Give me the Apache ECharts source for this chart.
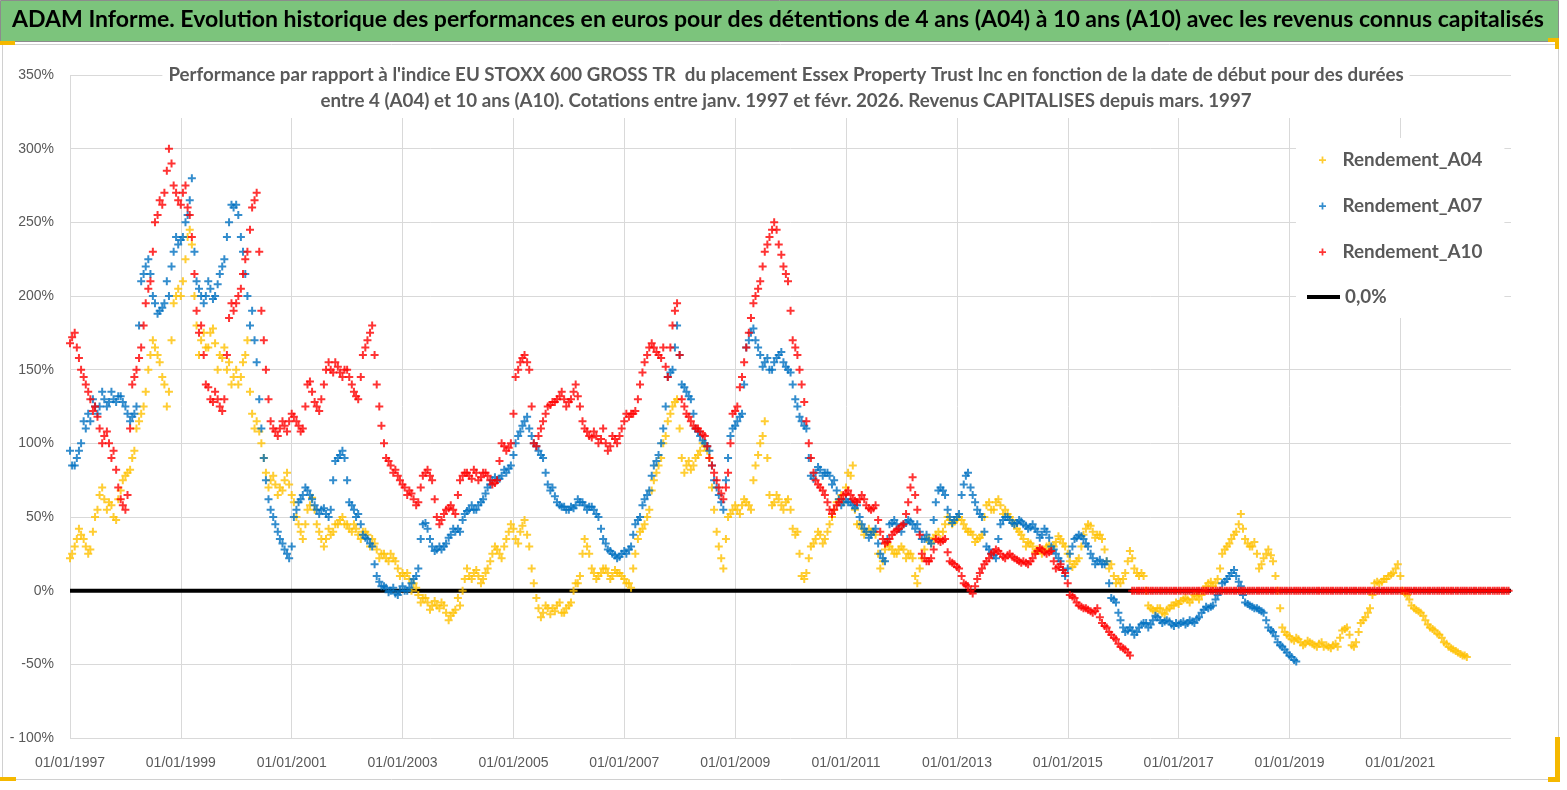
<!DOCTYPE html>
<html><head><meta charset="utf-8">
<script src="https://cdn.jsdelivr.net/npm/echarts@6/dist/echarts.min.js"></script>
<style>html,body{margin:0;padding:0;background:#fff}#c{width:1567px;height:790px}</style>
</head><body><div id="c"></div><script>
// ---- DATA: monthly readings, first value = January 1997 ----
// "Mid" arrays: reading around the 15th of each month; "Start" arrays: reading around the 1st.
const seriesNames = ['Rendement_A04', 'Rendement_A07', 'Rendement_A10', '0,0%'];
const startYear = 1997;
const xTickYears = [1997, 1999, 2001, 2003, 2005, 2007, 2009, 2011, 2013, 2015, 2017, 2019, 2021];
const yTicks = [-100, -50, 0, 50, 100, 150, 200, 250, 300, 350];

const a04Mid = [
  25,35,38,30,28,50,65,62,60,50,62,75,
  80,90,110,120,135,160,165,155,140,135,195,205,
  210,240,235,180,170,165,175,168,160,165,155,145,
  140,155,170,120,115,100,80,75,72,70,75,72,
  60,45,35,55,63,45,35,35,38,45,48,45,
  42,45,38,40,38,35,28,25,22,25,20,10,
  10,8,5,-3,-5,-8,-10,-10,-8,-15,-17,-13,
  -10,8,10,12,10,8,15,25,28,22,35,45,
  35,40,48,30,5,-12,-15,-12,-12,-10,-15,-12,
  -8,5,10,35,25,12,10,15,12,10,12,10,
  5,2,25,40,45,55,75,85,100,115,125,130,
  90,85,82,90,95,98,90,55,30,15,50,55,
  55,58,60,55,85,100,115,65,60,62,55,62,
  42,40,10,12,30,35,38,35,45,55,62,60,
  80,85,45,42,40,40,38,15,28,30,25,28,
  28,25,22,5,22,35,32,38,35,45,48,47,
  50,45,40,38,35,38,58,55,60,58,55,50,
  45,40,35,33,30,28,25,30,28,33,35,30,
  20,18,22,38,45,40,38,35,20,18,5,5,
  12,27,15,10,10,-10,-13,-12,-15,-13,-10,-8,
  -7,-5,-8,-3,-6,0,5,3,8,25,30,35,
  40,52,35,30,33,15,22,28,20,0,-25,-30,
  -33,-32,-35,-36,-35,-37,-36,-38,-38,-37,-38,-27,
  -25,-37,-35,-22,-18,-12,5,5,8,10,12,18,
  0,-3,-10,-13,-15,-20,-25,-27,-30,-35,-38,-40,
  -42,-44,-45
];
const a04Start = [
  22,30,42,35,25,40,55,70,55,58,48,68,
  78,82,95,115,125,150,170,160,145,125,170,200,
  200,225,245,200,160,175,165,178,150,158,150,140,
  150,145,160,135,110,108,90,70,78,65,68,80,
  65,50,40,45,58,55,40,30,42,40,45,50,
  45,40,42,35,40,30,32,22,25,20,22,15,
  12,12,0,2,-8,-5,-13,-7,-12,-10,-20,-15,
  -5,0,15,8,14,5,12,20,30,25,30,40,
  42,32,44,38,15,-5,-18,-10,-16,-14,-8,-15,
  -10,0,5,25,30,15,8,12,15,8,14,12,
  8,5,15,35,42,50,68,80,90,105,120,128,
  110,80,88,85,92,100,95,70,40,22,35,52,
  58,52,62,58,75,92,105,90,58,65,58,60,
  55,38,25,8,22,32,40,32,40,50,60,65,
  70,78,55,45,38,42,40,25,20,32,28,25,
  30,22,25,10,15,28,36,35,40,40,50,45,
  48,48,42,40,33,36,50,60,55,62,52,52,
  48,42,38,30,32,26,28,27,31,30,37,32,
  25,16,20,30,42,44,36,38,28,15,10,8,
  8,20,22,12,12,0,-12,-14,-12,-16,-12,-10,
  -9,-6,-6,-6,-4,-3,3,6,5,15,28,32,
  38,45,42,32,30,25,18,25,24,10,-12,-28,
  -31,-34,-33,-37,-34,-36,-38,-35,-37,-39,-36,-32,
  -26,-30,-38,-28,-20,-15,-3,6,6,8,11,15,
  10,-2,-6,-12,-14,-17,-23,-26,-29,-32,-36,-39,
  -41,-43,-44
];

const a07Mid = [
  85,90,100,110,115,125,125,130,128,130,132,128,
  120,118,125,210,220,215,195,190,195,200,230,235,
  240,255,280,210,200,200,205,200,215,225,250,260,
  255,230,200,190,155,110,75,55,45,35,28,22,
  50,60,65,68,62,55,55,52,55,88,92,90,
  60,55,52,38,35,30,10,3,2,0,-2,0,
  0,2,8,15,45,42,30,28,28,32,38,40,
  40,52,55,55,58,62,70,75,75,78,80,85,
  100,108,115,110,100,95,90,72,70,60,57,55,
  57,58,60,58,57,55,50,35,28,25,22,25,
  25,30,45,50,62,68,85,92,110,145,150,180,
  140,135,130,110,105,100,95,75,65,55,90,110,
  115,120,165,175,170,160,155,150,155,160,155,150,
  140,125,115,110,78,80,82,80,78,75,62,60,
  60,58,58,45,40,38,42,25,20,45,48,42,
  45,48,45,45,35,38,32,60,70,65,50,48,
  52,72,80,65,55,50,30,25,22,45,50,48,
  45,48,45,42,45,40,38,40,30,25,20,10,
  25,35,38,35,30,22,20,18,20,-5,-8,-20,
  -28,-25,-30,-25,-22,-25,-20,-18,-22,-20,-23,-22,
  -22,-23,-20,-22,-18,-13,-12,-10,-3,5,8,12,
  10,3,-8,-10,-12,-13,-15,-25,-28,-35,-38,-42,
  -45,-48
];
const a07Start = [
  95,85,95,115,120,130,120,135,125,135,128,132,
  125,115,120,180,215,225,200,188,192,210,220,240,
  238,250,265,230,205,195,210,198,208,220,240,262,
  262,240,215,180,170,130,90,62,50,40,32,25,
  30,55,62,70,65,58,52,56,50,75,90,95,
  75,58,50,45,36,32,18,6,3,-1,2,-3,
  3,0,5,10,35,46,35,27,30,30,36,42,
  42,48,54,58,55,60,66,72,77,76,82,83,
  92,105,112,118,105,98,92,80,68,64,58,57,
  55,56,62,60,55,57,52,42,32,27,24,23,
  27,28,38,48,58,65,78,88,100,125,148,165,
  160,138,132,120,108,102,98,85,70,60,75,105,
  112,118,140,170,178,165,152,158,150,158,162,152,
  148,130,118,112,90,76,84,78,80,72,68,58,
  62,60,56,50,42,36,40,32,22,35,46,45,
  40,46,47,42,40,35,34,48,68,68,55,46,
  50,65,78,70,60,52,40,28,24,35,48,50,
  46,46,47,44,43,42,36,42,36,28,22,14,
  15,30,36,37,32,25,18,21,18,5,-6,-15,
  -25,-27,-27,-28,-23,-22,-23,-17,-20,-21,-21,-24,
  -23,-21,-22,-21,-19,-15,-11,-11,-6,0,6,10,
  14,6,-3,-9,-11,-12,-14,-20,-27,-31,-37,-40,
  -44,-47
];

const a10Mid = [
  172,165,150,140,130,125,110,105,100,95,70,58,
  65,140,150,165,195,210,250,265,270,300,275,265,
  270,260,240,190,180,140,130,135,125,130,185,190,
  200,215,230,260,270,190,150,115,108,110,112,115,
  118,112,110,140,135,125,130,150,150,155,148,150,
  145,135,130,160,170,180,140,112,90,85,82,75,
  70,68,62,60,78,82,75,50,48,55,58,52,
  75,80,78,82,75,80,78,72,75,100,95,100,
  145,155,160,150,100,105,115,125,128,130,135,125,
  130,140,125,110,105,108,100,110,95,105,100,110,
  120,120,122,140,155,165,165,160,165,145,180,195,
  130,120,115,110,108,105,90,80,70,62,80,120,
  125,145,165,185,200,210,230,240,250,235,220,210,
  170,160,140,115,90,75,70,65,55,55,60,65,
  68,62,60,65,58,55,58,40,32,35,40,42,
  45,60,77,55,25,20,22,35,33,35,20,18,
  15,5,3,-2,8,15,20,25,28,25,22,25,
  22,20,20,18,22,27,28,25,27,15,18,12,
  -3,-5,-10,-12,-13,-15,-12,-22,-25,-30,-33,-38,
  -40,-44,0,0,0,0,0,0,0,0,0,0,
  0,0,0,0,0,0,0,0,0,0,0,0,
  0,0,0,0,0,0,0,0,0,0,0,0,
  0,0,0,0,0,0,0,0,0,0,0,0,
  0,0,0,0,0,0,0,0,0,0,0,0,
  0,0,0,0,0,0,0,0,0,0,0,0,
  0,0,0,0,0,0,0,0,0,0,0,0
];
const a10Start = [
  168,175,158,145,135,122,118,100,108,90,82,62,
  55,110,145,158,180,205,230,255,262,285,290,270,
  262,275,255,215,175,160,138,128,130,122,160,195,
  195,205,225,245,265,230,170,130,110,105,115,108,
  120,115,108,125,142,128,122,140,155,148,152,145,
  150,140,132,145,165,175,160,125,100,88,80,78,
  72,65,66,58,70,80,78,62,45,52,56,55,
  65,78,80,76,80,77,80,75,73,88,98,97,
  120,150,158,155,125,98,110,120,126,128,132,130,
  128,135,132,115,108,104,105,103,100,98,103,105,
  115,118,120,130,148,160,168,162,158,152,165,190,
  160,125,118,112,110,106,98,85,75,66,70,100,
  122,138,155,175,195,205,220,235,245,245,228,215,
  190,165,150,128,100,80,72,68,60,52,58,62,
  66,65,61,62,62,56,56,48,35,33,38,41,
  44,52,70,65,38,22,20,28,34,34,26,19,
  16,10,4,0,3,12,18,22,26,27,23,24,
  23,21,19,19,20,25,29,26,26,20,16,14,
  5,-4,-8,-11,-12,-14,-14,-18,-24,-28,-32,-36,
  -39,-42,0,0,0,0,0,0,0,0,0,0,
  0,0,0,0,0,0,0,0,0,0,0,0,
  0,0,0,0,0,0,0,0,0,0,0,0,
  0,0,0,0,0,0,0,0,0,0,0,0,
  0,0,0,0,0,0,0,0,0,0,0,0,
  0,0,0,0,0,0,0,0,0,0,0,0,
  0,0,0,0,0,0,0,0,0,0,0,0
];

const zeroLineValue = 0;

const titleText = 'ADAM Informe. Evolution historique des performances en euros pour des détentions de 4 ans (A04) à 10 ans (A10) avec les revenus connus capitalisés';
const subLine1 = "Performance par rapport à l'indice EU STOXX 600 GROSS TR  du placement Essex Property Trust Inc en fonction de la date de début pour des durées";
const subLine2 = 'entre 4 (A04) et 10 ans (A10). Cotations entre janv. 1997 et févr. 2026. Revenus CAPITALISES depuis mars. 1997';

// ---- helpers ----
const DAY = 864e5;
const T0 = Date.UTC(startYear, 0, 1);
const xOf = (i, day) => (Date.UTC(startYear, i, day) - T0) / DAY;
const pairs = (vals, day) => vals.map((v, i) => [xOf(i, day), v]);
const xMax = (Date.UTC(2022, 11, 31) - T0) / DAY;
const xInterval = ((Date.UTC(xTickYears[xTickYears.length - 1], 0, 1) - T0) / DAY) / (xTickYears.length - 1);
const pad = n => (n < 10 ? '0' : '') + n;
const fmtDate = v => { const d = new Date(T0 + v * DAY + DAY / 4); return pad(d.getUTCDate()) + '/' + pad(d.getUTCMonth() + 1) + '/' + d.getUTCFullYear(); };

const FAM = 'Lato, "Open Sans", sans-serif';
const ctx = document.createElement('canvas').getContext('2d');
function fit(text, weight, target) { ctx.font = weight + ' 100px ' + FAM; return 100 * target / ctx.measureText(text).width; }
const titleSize = fit(titleText, 'bold', 1533);
const subSize = fit(subLine1, 'bold', 1236);
const legSize = fit('Rendement_A04', 'bold', 140);

const plus = 'path://M3,0H5V3H8V5H5V8H3V5H0V3H3Z';
const grey = '#595959';
const COLORS = ['#ffc000', '#0070c0', '#ff0000'];

function scatter(name, idx, mid, start) {
  return { name, type: 'scatter', z: 2 + idx, symbol: plus, symbolSize: 8,
    itemStyle: { color: COLORS[idx] }, data: pairs(start, 1).concat(pairs(mid, 15)) };
}

const chart = echarts.init(document.getElementById('c'), null, { renderer: 'canvas' });
chart.setOption({
  animation: false,
  backgroundColor: '#ffffff',
  graphic: [
    { type: 'rect', left: 0, top: 0, shape: { width: 1558, height: 41 }, style: { fill: '#7cc47c', stroke: '#8c8c8c', lineWidth: 1 }, z: -10 },
    { type: 'rect', left: 0, top: 42, shape: { width: 1556, height: 735 }, style: { fill: 'none', stroke: '#d0d0d0', lineWidth: 1 }, z: -10 },
    { type: 'rect', left: 0, top: 41, shape: { width: 15, height: 4 }, style: { fill: '#f5b800' }, z: -5 },
    { type: 'rect', left: 1548, top: 38, shape: { width: 11, height: 4 }, style: { fill: '#f5b800' }, z: -5 },
    { type: 'rect', left: 1555, top: 38, shape: { width: 4, height: 11 }, style: { fill: '#f5b800' }, z: -5 },
    { type: 'rect', left: 1555, top: 737, shape: { width: 5, height: 45 }, style: { fill: '#f5b800' }, z: -5 },
    { type: 'rect', left: 1548, top: 777, shape: { width: 12, height: 5 }, style: { fill: '#f5b800' }, z: -5 },
    { type: 'rect', left: 0, top: 777, shape: { width: 16, height: 4 }, style: { fill: '#f5b800' }, z: -5 }
  ],
  title: [
    {
      text: titleText, left: 12, top: 5, padding: 0,
      textStyle: { fontFamily: FAM, fontSize: titleSize, fontWeight: 'bold', color: '#000000', lineHeight: 30 }
    },
    {
      text: subLine1 + '\n' + subLine2,
      left: 780, top: 62, textAlign: 'center',
      backgroundColor: '#ffffff', padding: [0, 6, 4, 6],
      textStyle: { fontFamily: FAM, fontSize: subSize, fontWeight: 'bold', color: grey, lineHeight: 26, align: 'center' }
    }
  ],
  legend: [
    {
      data: seriesNames.slice(0, 3),
      orient: 'vertical', left: 1296, top: 138,
      padding: [10, 22, 54, 23],
      backgroundColor: '#ffffff',
      icon: plus, itemWidth: 20, itemHeight: 7, itemGap: 22,
      textStyle: { fontFamily: FAM, fontSize: legSize, fontWeight: 'bold', color: grey, lineHeight: 24, padding: [0, 0, 0, 5] }
    },
    {
      data: [seriesNames[3]],
      orient: 'vertical', left: 1307, top: 285, padding: 0,
      icon: 'rect', itemWidth: 33, itemHeight: 4,
      textStyle: { fontFamily: FAM, fontSize: legSize, fontWeight: 'bold', color: grey, lineHeight: 24 }
    }
  ],
  grid: { left: 70, right: 56, top: 75, bottom: 52, containLabel: false },
  xAxis: {
    type: 'value', min: 0, max: xMax, interval: xInterval,
    axisLine: { show: false }, axisTick: { show: false },
    splitLine: { show: true, showMaxLine: false, lineStyle: { color: '#d9d9d9', width: 1 } },
    axisLabel: { formatter: fmtDate, margin: 18, fontFamily: "'Liberation Sans',Arial,sans-serif", fontSize: 14, color: grey, showMaxLabel: false }
  },
  yAxis: {
    type: 'value', min: yTicks[0], max: yTicks[yTicks.length - 1], interval: yTicks[1] - yTicks[0],
    axisLine: { show: false }, axisTick: { show: false },
    splitLine: { show: true, lineStyle: { color: '#d9d9d9', width: 1 } },
    axisLabel: {
      formatter: v => (v === -100 ? '- 100%' : v + '%'),
      margin: 16, fontFamily: "'Liberation Sans',Arial,sans-serif", fontSize: 14, color: grey
    }
  },
  series: [
    { name: seriesNames[3], type: 'line', z: 1, symbol: 'none', silent: true,
      data: [[0, zeroLineValue], [xMax, zeroLineValue]],
      lineStyle: { color: '#000000', width: 4 }, itemStyle: { color: '#000000' } },
    scatter(seriesNames[0], 0, a04Mid, a04Start),
    scatter(seriesNames[1], 1, a07Mid, a07Start),
    scatter(seriesNames[2], 2, a10Mid, a10Start)
  ]
});
</script></body></html>
